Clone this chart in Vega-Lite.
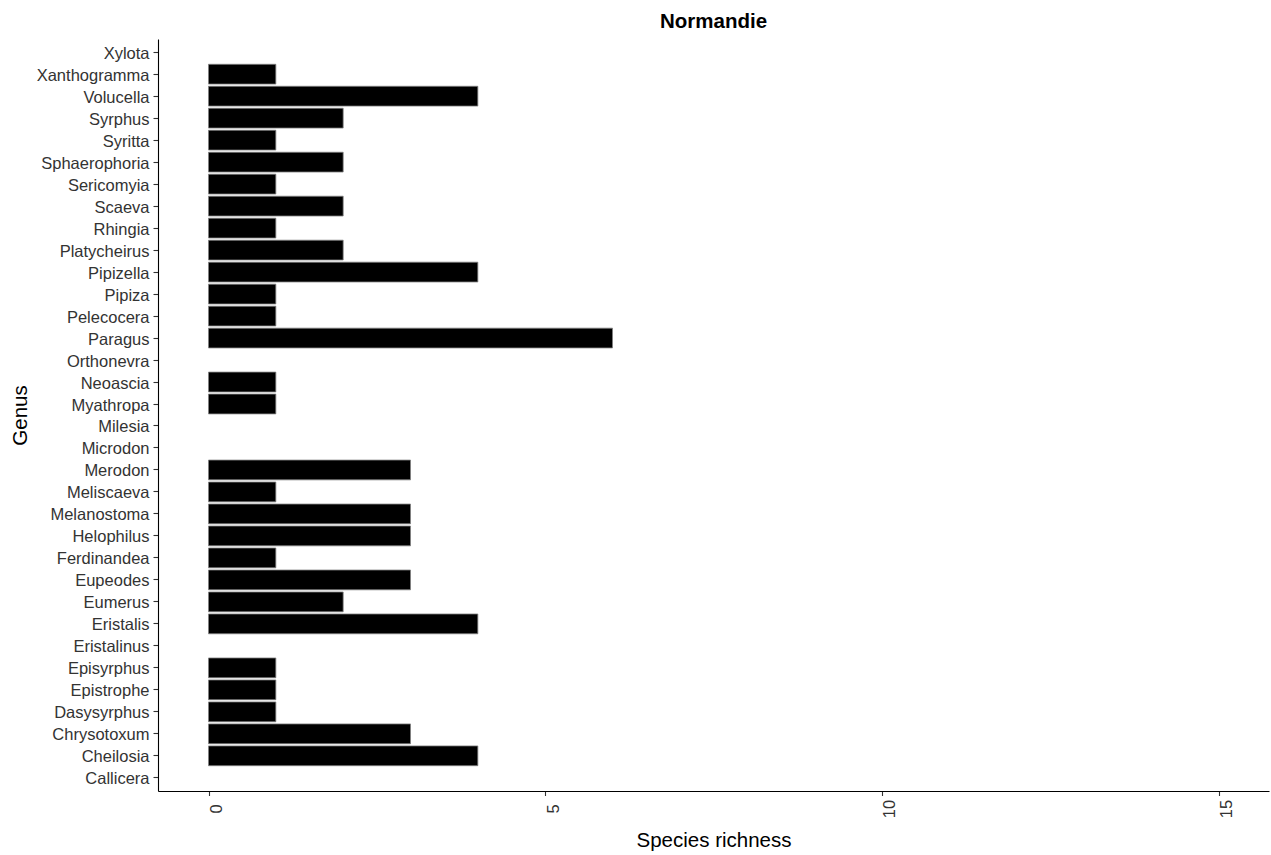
{
  "$schema": "https://vega.github.io/schema/vega-lite/v6.json",
  "autosize": {"type": "none"},
  "width": 1111,
  "height": 752,
  "padding": {"left": 158, "top": 39, "right": 2, "bottom": 64},
  "background": "white",
  "title": {"text": "Normandie", "fontSize": 20.5, "font": "Liberation Sans", "fontWeight": "bold", "color": "#000000", "anchor": "middle", "offset": 7},
  "data": {"values": [
    {"genus": "Xylota", "richness": 0},
    {"genus": "Xanthogramma", "richness": 1},
    {"genus": "Volucella", "richness": 4},
    {"genus": "Syrphus", "richness": 2},
    {"genus": "Syritta", "richness": 1},
    {"genus": "Sphaerophoria", "richness": 2},
    {"genus": "Sericomyia", "richness": 1},
    {"genus": "Scaeva", "richness": 2},
    {"genus": "Rhingia", "richness": 1},
    {"genus": "Platycheirus", "richness": 2},
    {"genus": "Pipizella", "richness": 4},
    {"genus": "Pipiza", "richness": 1},
    {"genus": "Pelecocera", "richness": 1},
    {"genus": "Paragus", "richness": 6},
    {"genus": "Orthonevra", "richness": 0},
    {"genus": "Neoascia", "richness": 1},
    {"genus": "Myathropa", "richness": 1},
    {"genus": "Milesia", "richness": 0},
    {"genus": "Microdon", "richness": 0},
    {"genus": "Merodon", "richness": 3},
    {"genus": "Meliscaeva", "richness": 1},
    {"genus": "Melanostoma", "richness": 3},
    {"genus": "Helophilus", "richness": 3},
    {"genus": "Ferdinandea", "richness": 1},
    {"genus": "Eupeodes", "richness": 3},
    {"genus": "Eumerus", "richness": 2},
    {"genus": "Eristalis", "richness": 4},
    {"genus": "Eristalinus", "richness": 0},
    {"genus": "Episyrphus", "richness": 1},
    {"genus": "Epistrophe", "richness": 1},
    {"genus": "Dasysyrphus", "richness": 1},
    {"genus": "Chrysotoxum", "richness": 3},
    {"genus": "Cheilosia", "richness": 4},
    {"genus": "Callicera", "richness": 0}
  ]},
  "transform": [{"filter": "datum.richness > 0"}],
  "mark": {"type": "bar", "fill": "#000000", "stroke": "#808080", "strokeWidth": 0.8},
  "encoding": {
    "y": {
      "field": "genus", "type": "nominal", "title": "Genus",
      "scale": {
        "domain": ["Xylota","Xanthogramma","Volucella","Syrphus","Syritta","Sphaerophoria","Sericomyia","Scaeva","Rhingia","Platycheirus","Pipizella","Pipiza","Pelecocera","Paragus","Orthonevra","Neoascia","Myathropa","Milesia","Microdon","Merodon","Meliscaeva","Melanostoma","Helophilus","Ferdinandea","Eupeodes","Eumerus","Eristalis","Eristalinus","Episyrphus","Epistrophe","Dasysyrphus","Chrysotoxum","Cheilosia","Callicera"],
        "paddingInner": 0.1, "paddingOuter": 0.15
      },
      "axis": {
        "domainColor": "#000000", "domainWidth": 1.1, "tickColor": "#333333", "tickWidth": 1.1, "tickSize": 5,
        "labelPadding": 4, "labelOffset": 1.5, "labelFont": "Liberation Sans", "labelFontSize": 16.5, "labelColor": "#333333",
        "titleFont": "Liberation Sans", "titleFontSize": 20.5, "titleFontWeight": "normal", "titleColor": "#000000", "titlePadding": 6,
        "grid": false
      }
    },
    "x": {
      "field": "richness", "type": "quantitative", "title": "Species richness",
      "scale": {"domain": [-0.75, 15.75], "nice": false, "zero": false},
      "axis": {
        "values": [0, 5, 10, 15], "labelAngle": 270, "labelAlign": "center", "labelBaseline": "top",
        "domainColor": "#000000", "domainWidth": 1.1, "tickColor": "#333333", "tickWidth": 1.1, "tickSize": 4.5,
        "labelPadding": 13, "labelFont": "Liberation Sans", "labelFontSize": 16.5, "labelColor": "#333333",
        "titleFont": "Liberation Sans", "titleFontSize": 20.5, "titleFontWeight": "normal", "titleColor": "#000000", "titlePadding": 13,
        "grid": false, "labelFlush": false
      }
    }
  },
  "config": {"view": {"stroke": null}}
}
